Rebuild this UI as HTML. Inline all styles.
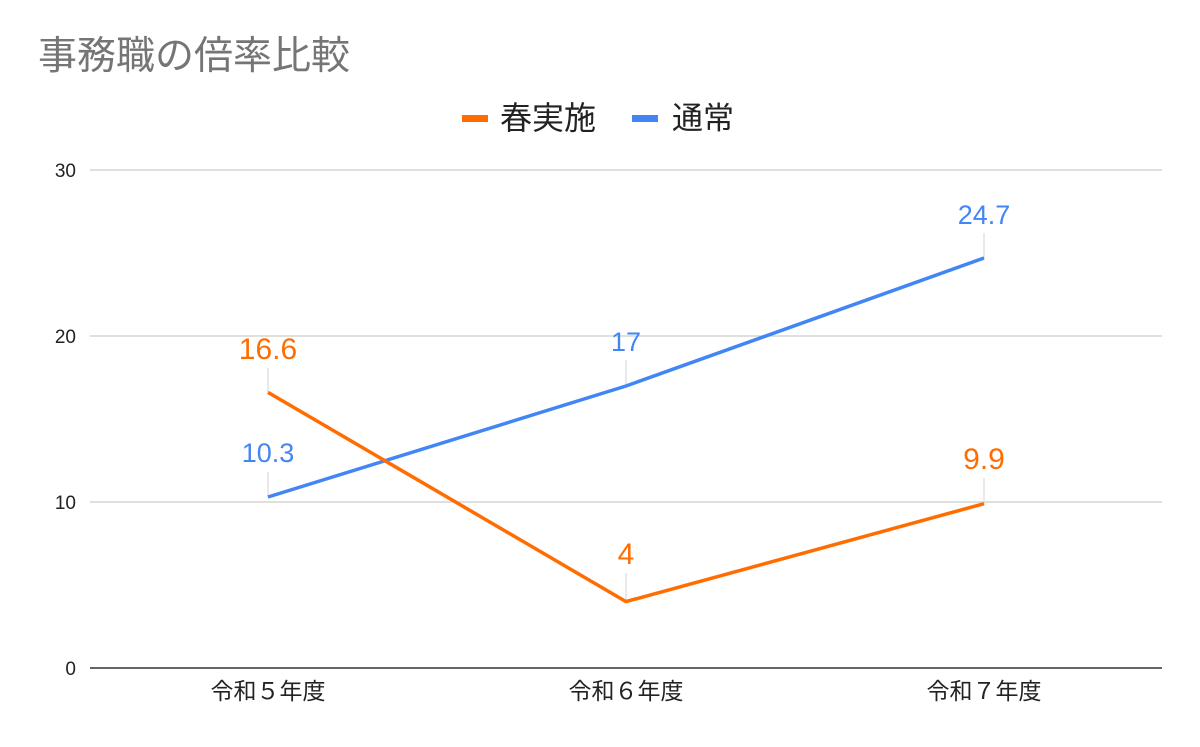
<!DOCTYPE html>
<html><head><meta charset="utf-8"><style>
body{margin:0;background:#fff;}
svg text{font-family:"Liberation Sans","Noto Sans CJK JP",sans-serif;}
</style></head><body>
<svg width="1200" height="742" viewBox="0 0 1200 742" xmlns="http://www.w3.org/2000/svg">
<rect width="1200" height="742" fill="#fff"/>
<text x="38" y="69" font-size="39" fill="#757575">事務職の倍率比較</text>
<rect x="462" y="115" width="26" height="7" fill="#ff6d01"/>
<text x="500" y="129" font-size="32" fill="#222">春実施</text>
<rect x="632" y="115" width="26" height="7" fill="#4285f4"/>
<text x="672" y="129" font-size="31" fill="#222">通常</text>
<g stroke="#ccc" stroke-width="1.3">
<line x1="90" y1="170" x2="1162" y2="170"/>
<line x1="90" y1="336" x2="1162" y2="336"/>
<line x1="90" y1="502" x2="1162" y2="502"/>
</g>
<line x1="90" y1="668" x2="1162" y2="668" stroke="#333" stroke-width="1.5"/>
<g font-size="19" fill="#222" text-anchor="end">
<text x="76" y="177">30</text><text x="76" y="343">20</text><text x="76" y="509">10</text><text x="76" y="675">0</text>
</g>
<g font-size="23" fill="#222" text-anchor="middle">
<text x="268" y="699">令和５年度</text><text x="626" y="699">令和６年度</text><text x="984" y="699">令和７年度</text>
</g>
<g stroke="#ddd" stroke-width="1.3">
<line x1="268" y1="368" x2="268" y2="392"/>
<line x1="268" y1="472" x2="268" y2="497"/>
<line x1="626" y1="360" x2="626" y2="386"/>
<line x1="626" y1="573" x2="626" y2="601"/>
<line x1="984" y1="233" x2="984" y2="258"/>
<line x1="984" y1="478" x2="984" y2="504"/>
</g>
<polyline points="268,497 626,386 984,258" fill="none" stroke="#4285f4" stroke-width="3.5" stroke-linejoin="round"/>
<polyline points="268,392.4 626,601.6 984,503.7" fill="none" stroke="#ff6d01" stroke-width="3.5" stroke-linejoin="round"/>
<g text-anchor="middle">
<text x="268" y="359" font-size="30" fill="#ff6d01">16.6</text>
<text x="268" y="462" font-size="27" fill="#4285f4">10.3</text>
<text x="626" y="351" font-size="27" fill="#4285f4">17</text>
<text x="626" y="564" font-size="30" fill="#ff6d01">4</text>
<text x="984" y="224" font-size="27" fill="#4285f4">24.7</text>
<text x="984" y="469" font-size="30" fill="#ff6d01">9.9</text>
</g>
</svg>
</body></html>
